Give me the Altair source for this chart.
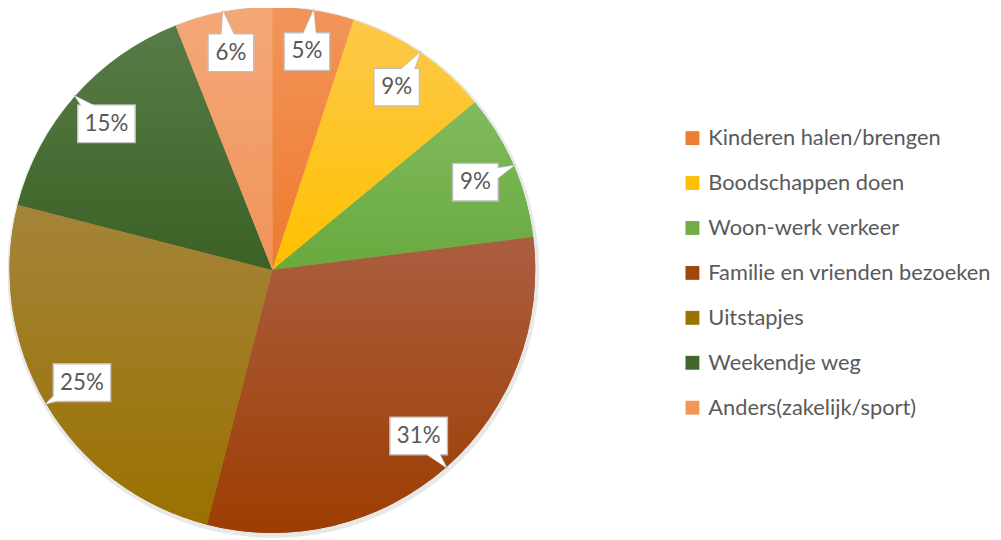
import altair as alt
import pandas as pd

# ---- data ----
categories = ["Kinderen halen/brengen", "Boodschappen doen", "Woon-werk verkeer",
              "Familie en vrienden bezoeken", "Uitstapjes", "Weekendje weg",
              "Anders(zakelijk/sport)"]
values = [5, 9, 9, 31, 25, 15, 6]

# ---- styles ----
colors = ["#ED7D31", "#FFC000", "#70AD47", "#9E480E", "#997300", "#43682B", "#F1975A"]
tops = ["#F2955A", "#FCC94A", "#80BB5E", "#AB5E40", "#A4843A", "#577C48", "#F4A878"]
bottoms = ["#EE7A2E", "#FFC000", "#69A93E", "#9D3D02", "#9A7100", "#3C6124", "#F0945A"]

CX, CY, R = 266.5, 262, 265
RB = 223      # radius of label box centres
D = 11        # half width of callout pointer base
FONT = "Lato"
TXT = "#595959"
BORDER = "#BFBFBF"

df = pd.DataFrame({"cat": categories, "value": values, "idx": list(range(len(values)))})

base = (
    alt.Chart(df)
    .transform_window(cum="sum(value)", sort=[alt.SortField("idx")], frame=[None, 0])
    .transform_joinaggregate(total="sum(value)")
    .transform_calculate(
        t0="2*PI*(datum.cum-datum.value)/datum.total",
        t1="2*PI*datum.cum/datum.total",
        mid="PI*(2*datum.cum-datum.value)/datum.total",
        label="datum.value + '%'",
    )
    .transform_calculate(
        bx=f"{CX} + {RB}*sin(datum.mid)",
        by=f"{CY} - {RB}*cos(datum.mid)",
        w="22 + 12*length(datum.label)",
    )
)

shadow = alt.Chart(pd.DataFrame({"a": [0]})).mark_arc(
    theta=0, theta2=6.2832, radius=R + 3, color="#7F7F7F", opacity=0.18
).encode(x=alt.value(CX + 1), y=alt.value(CY + 2))

pie = base.mark_arc(radius=R).encode(
    theta=alt.Theta("value:Q", stack=True),
    order=alt.Order("idx:Q"),
    color=alt.Color(
        "cat:N",
        scale=alt.Scale(domain=categories, range=colors),
        legend=alt.Legend(
            orient="none", legendX=679, legendY=118, title=None,
            symbolType="square", symbolSize=196, symbolStrokeWidth=0,
            labelFont=FONT, labelFontSize=22, labelColor=TXT,
            labelOffset=5, rowPadding=23.3, padding=0, labelLimit=400,
        ),
    ),
    x=alt.value(CX), y=alt.value(CY),
)

grad_layers = []
for i in range(len(categories)):
    grad = {
        "gradient": "linear", "x1": 0, "y1": 0, "x2": 0, "y2": 1,
        "stops": [{"offset": 0, "color": tops[i]}, {"offset": 1, "color": bottoms[i]}],
    }
    grad_layers.append(
        base.transform_filter(f"datum.idx == {i}").mark_arc(radius=R, fill=grad).encode(
            theta=alt.Theta("t0:Q", scale=None, stack=None),
            theta2="t1:Q",
            x=alt.value(CX), y=alt.value(CY),
        )
    )

tri = (
    base.transform_calculate(k="[0,1,2]")
    .transform_flatten(["k"])
    .transform_calculate(
        px=f"datum.k==1 ? {CX} + {R}*sin(datum.mid) : datum.bx + (datum.k==0 ? 1 : -1)*{D}*cos(datum.mid)",
        py=f"datum.k==1 ? {CY} - {R}*cos(datum.mid) : datum.by + (datum.k==0 ? 1 : -1)*{D}*sin(datum.mid)",
    )
)
tri_enc = dict(
    x=alt.X("px:Q", scale=None, axis=None),
    y=alt.Y("py:Q", scale=None, axis=None),
    detail="cat:N",
    order="k:Q",
)
pointer = tri.mark_line(fill="white", stroke=BORDER, strokeWidth=1.4,
                        interpolate="linear-closed").encode(**tri_enc)
pointer_fill = tri.mark_line(fill="white", strokeOpacity=0,
                             interpolate="linear-closed").encode(**tri_enc)

box = base.transform_calculate(
    x1="datum.bx - datum.w/2", x2="datum.bx + datum.w/2",
    y1="datum.by - 19", y2="datum.by + 19",
).mark_rect(fill="white", stroke=BORDER, strokeWidth=1.4).encode(
    x=alt.X("x1:Q", scale=None, axis=None), x2="x2:Q",
    y=alt.Y("y1:Q", scale=None, axis=None), y2="y2:Q",
)

text = base.mark_text(font=FONT, fontSize=22.5, color=TXT, baseline="middle", align="center").encode(
    x=alt.X("bx:Q", scale=None, axis=None),
    y=alt.Y("by:Q", scale=None, axis=None),
    text="label:N",
)

chart = alt.layer(shadow, pie, *grad_layers, pointer, box, pointer_fill, text).properties(
    width=993, height=532,
    autosize=alt.AutoSizeParams(type="none"),
    padding=0,
    background="white",
).configure_view(stroke=None)

chart.save("out.html", embed_options={"renderer": "svg", "actions": False})
